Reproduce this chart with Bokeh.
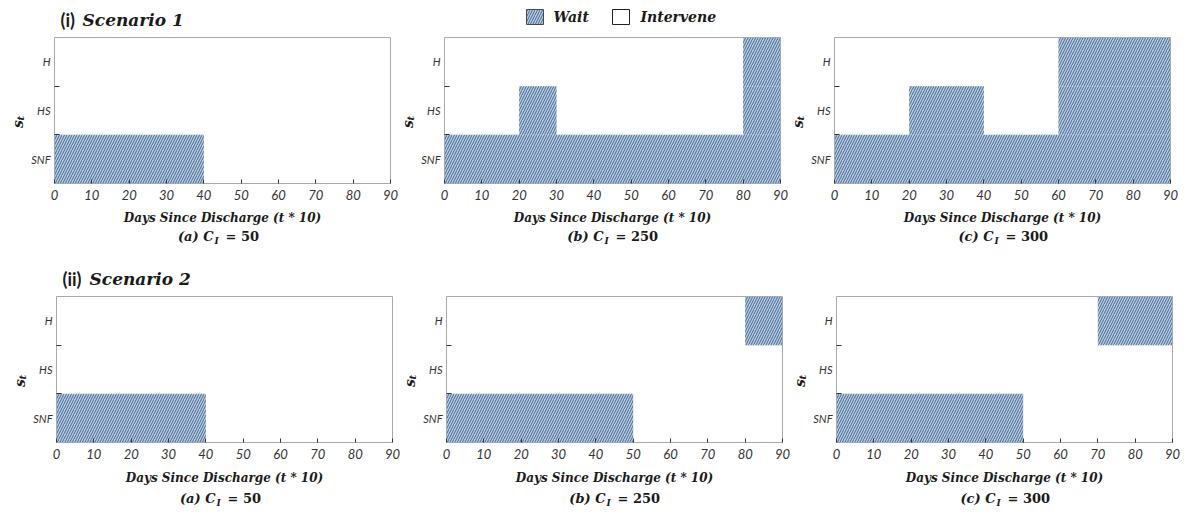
from bokeh.plotting import figure
from bokeh.models import ColumnDataSource, Range1d, FixedTicker, Spacer
from bokeh.layouts import column, row
from bokeh.core.properties import value
from bokeh.embed import file_html
from bokeh.resources import INLINE

# ---- data -----------------------------------------------------------------
states = ["SNF", "HS", "H"]                      # bottom -> top
x_ticks = [0, 10, 20, 30, 40, 50, 60, 70, 80, 90]
day_range = [0, 90]

# Scenario 1: "Wait" regions as (state, start day, end day)
s1_costs = [50, 250, 300]
s1a_state = ["SNF"]
s1a_start = [0]
s1a_end = [40]
s1b_state = ["SNF", "HS", "HS", "H"]
s1b_start = [0, 20, 80, 80]
s1b_end = [90, 30, 90, 90]
s1c_state = ["SNF", "HS", "HS", "H"]
s1c_start = [0, 20, 60, 60]
s1c_end = [90, 40, 90, 90]

# Scenario 2
s2_costs = [50, 250, 300]
s2a_state = ["SNF"]
s2a_start = [0]
s2a_end = [40]
s2b_state = ["SNF", "H"]
s2b_start = [0, 80]
s2b_end = [50, 90]
s2c_state = ["SNF", "H"]
s2c_start = [0, 70]
s2c_end = [50, 90]

panel_letters = ["a", "b", "c"]

# ---- styles / layout constants -------------------------------------------
SERIF = "DejaVu Serif"
SANS = "Lato"
TEXT = "#1a1a1a"
WAIT_STYLE = dict(fill_color="#bccbdd", hatch_pattern="right_diagonal_line",
                  hatch_color="#3f6897", hatch_scale=5, hatch_weight=1.0)
PAGE_W = 1190
FRAME_W, FRAME_H = 336, 146
YT_W = 19            # strip holding the rotated y title
LEFT_B, RIGHT_B = 27, 8
UNIT_W = YT_W + LEFT_B + FRAME_W + RIGHT_B
TOP_B, BOTTOM_B = 2, 24
PANEL_H = TOP_B + FRAME_H + BOTTOM_B


def blank(width, height):
    """A figure without axes whose data units are pixels, y pointing down."""
    p = figure(width=width, height=height, x_range=Range1d(0, width),
               y_range=Range1d(height, 0), output_backend="svg",
               toolbar_location=None, x_axis_type=None, y_axis_type=None,
               min_border=0)
    p.grid.visible = False
    p.outline_line_color = None
    return p


def put_text(p, x, y, text, size, font=SERIF, style="bold italic", align="left",
             angle=0.0):
    p.text(x=[x], y=[y], text=[text], text_font=value(font), text_font_style=style,
           text_font_size=size, text_align=align, text_baseline="middle",
           text_color=TEXT, angle=angle)


def panel(state, start, end):
    p = figure(width=LEFT_B + FRAME_W + RIGHT_B, height=PANEL_H,
               x_range=Range1d(*day_range), y_range=Range1d(0, len(states)),
               output_backend="svg", toolbar_location=None,
               min_border_left=LEFT_B, min_border_right=RIGHT_B,
               min_border_top=TOP_B, min_border_bottom=BOTTOM_B)
    p.grid.visible = False
    p.outline_line_color = "#a9a9a9"
    p.outline_line_width = 1
    p.background_fill_color = "white"
    p.border_fill_color = "white"

    bottom = [states.index(s) for s in state]
    top = [b + 1 for b in bottom]
    src = ColumnDataSource(dict(left=start, right=end, bottom=bottom, top=top))
    p.quad(left="left", right="right", bottom="bottom", top="top", source=src,
           line_color=None, **WAIT_STYLE)

    xa = p.xaxis[0]
    xa.ticker = FixedTicker(ticks=x_ticks)
    xa.axis_line_color = None
    xa.major_tick_in = 4
    xa.major_tick_out = 0
    xa.major_tick_line_color = "#333333"
    xa.minor_tick_line_color = None
    xa.major_label_standoff = 6
    xa.major_label_text_font = SANS
    xa.major_label_text_font_style = "italic"
    xa.major_label_text_font_size = "13px"
    xa.major_label_text_color = "#333333"

    # labels sit at band centres, tick marks at band boundaries
    ya = p.yaxis[0]
    centres = [i + 0.5 for i in range(len(states))]
    ya.ticker = FixedTicker(ticks=centres, minor_ticks=list(range(1, len(states))))
    ya.major_label_overrides = {c: s for c, s in zip(centres, states)}
    ya.axis_line_color = None
    ya.major_tick_line_color = None
    ya.major_tick_in = 0
    ya.major_tick_out = 0
    ya.minor_tick_line_color = "#333333"
    ya.minor_tick_in = 5
    ya.minor_tick_out = 0
    ya.major_label_standoff = 4
    ya.major_label_text_font = SANS
    ya.major_label_text_font_style = "italic"
    ya.major_label_text_font_size = "11px"
    ya.major_label_text_color = "#333333"
    return p


def y_title(s_y, t_y):
    p = blank(YT_W, PANEL_H)
    put_text(p, 9, s_y, "s", "14px", align="center", angle=1.5708)
    put_text(p, 12, t_y, "t", "10px", align="center", angle=1.5708)
    return p


def panel_row(offset, panels, s_y, t_y):
    kids = [Spacer(width=offset, height=PANEL_H)]
    for p in panels:
        kids += [y_title(s_y, t_y), p]
    return row(*kids)


def caption_strip(offset, height, costs, title_y, cap_y):
    p = blank(PAGE_W, height)
    for i, cost in enumerate(costs):
        fl = offset + i * UNIT_W + YT_W + LEFT_B       # frame left edge
        put_text(p, fl + FRAME_W / 2, title_y, "Days Since Discharge (t * 10)",
                 "12px", align="center")
        put_text(p, fl + 159, cap_y, f"({panel_letters[i]}) C", "13px", align="right")
        put_text(p, fl + 160, cap_y + 4, "I", "9px")
        put_text(p, fl + 171, cap_y, f"= {cost}", "13px", style="bold")
    return p


def header(height, x1, x2, y, roman, name):
    p = blank(PAGE_W, height)
    put_text(p, x1, y, roman, "18px", font=SANS, style="bold")
    put_text(p, x2, y, name, "17px")
    return p


# scenario 1 header with the legend
h1 = header(35, 60, 82, 19, "(i)", "Scenario 1")
h1.quad(left=[526], right=[543], top=[9], bottom=[24], line_color="#4a4a4a",
        line_width=1, **WAIT_STYLE)
put_text(h1, 553, 16.5, "Wait", "14px")
h1.quad(left=[612], right=[629], top=[9], bottom=[24], fill_color="white",
        line_color="#222222", line_width=1)
put_text(h1, 640, 16.5, "Intervene", "14px")

h2 = header(38, 62, 89, 22, "(ii)", "Scenario 2")

row1 = [panel(s1a_state, s1a_start, s1a_end),
        panel(s1b_state, s1b_start, s1b_end),
        panel(s1c_state, s1c_start, s1c_end)]
row2 = [panel(s2a_state, s2a_start, s2a_end),
        panel(s2b_state, s2b_start, s2b_end),
        panel(s2c_state, s2c_start, s2c_end)]

layout = column(
    h1,
    panel_row(8, row1, 102, 95),
    caption_strip(8, 49, s1_costs, 10, 29),
    h2,
    panel_row(10, row2, 102, 95),
    caption_strip(10, 46, s2_costs, 11, 32),
)

open("out.html", "w").write(file_html(layout, INLINE))
